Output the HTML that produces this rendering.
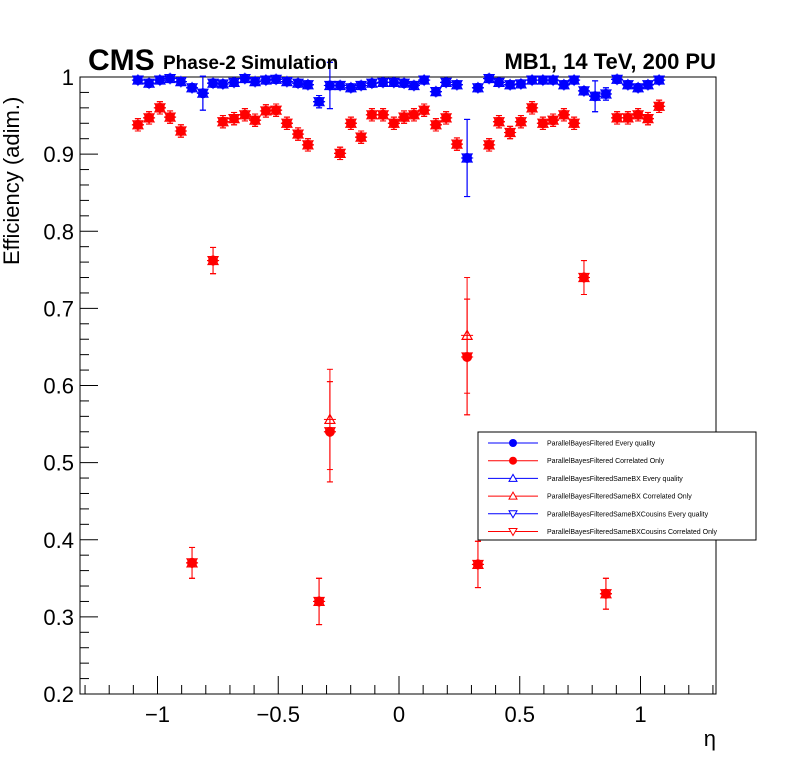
<!DOCTYPE html>
<html><head><meta charset="utf-8"><style>
html,body{margin:0;padding:0;background:#fff;}
svg{display:block;font-family:"Liberation Sans",Arial,sans-serif;}
</style></head><body>
<svg id="chart" width="796" height="772" viewBox="0 0 796 772">
<rect x="0" y="0" width="796" height="772" fill="#fff"/>
<g id="axes"></g>
<g id="marks"></g>
<text x="88" y="70" font-size="30" font-weight="bold">CMS</text>
<text x="163" y="69" font-size="19" font-weight="bold">Phase-2 Simulation</text>
<text x="716" y="69" font-size="22" font-weight="bold" text-anchor="end">MB1, 14 TeV, 200 PU</text>
<text transform="translate(19,265) rotate(-90)" font-size="22">Efficiency (adim.)</text>
<text x="716" y="746" font-size="22" text-anchor="end">η</text>
<g id="legend"></g>
</svg>
<script>
const etaPx = [137,148,159,169,180,191,202,212,222,233,244,254,265,275,286,297,307,318,329,339,350,360,371,382,393,403,413,423,435,445,456,466,477,488,498,509,520,531,542,552,563,573,583,594,605,616,627,637,647,658];
const etaBins = etaPx.map(p => +((p-398)/241.5).toFixed(3));
const blueEff = [.996,.992,.996,.998,.994,.986,.979,.992,.991,.993,.998,.994,.996,.997,.994,.992,.990,.968,.989,.989,.986,.989,.992,.993,.993,.992,.989,.996,.981,.993,.990,.895,.986,.998,.993,.990,.991,.996,.996,.996,.990,.996,.982,.975,.978,.997,.990,.986,.990,.996];
const blueErr = [.004,.004,.004,.004,.004,.005,.022,.004,.004,.004,.004,.004,.004,.004,.004,.004,.004,.008,.03,.004,.004,.004,.004,.004,.004,.004,.005,.004,.005,.004,.004,.05,.005,.004,.004,.004,.004,.004,.004,.004,.004,.004,.005,.02,.008,.004,.004,.004,.004,.004];
const redEff = [.938,.947,.960,.948,.930,.370,null,.762,.942,.946,.951,.944,.956,.957,.940,.926,.912,.320,.540,.901,.940,.922,.951,.951,.940,.948,.951,.957,.938,.947,.913,.637,.368,.912,.942,.928,.942,.960,.940,.944,.951,.940,.740,null,.330,.947,.947,.951,.946,.962];
const redErr = [.008,.008,.008,.008,.008,.02,0,.017,.008,.008,.008,.008,.008,.008,.008,.008,.008,.03,.065,.008,.008,.008,.008,.008,.008,.008,.008,.008,.008,.008,.008,.075,.03,.008,.008,.008,.008,.008,.008,.008,.008,.008,.022,0,.02,.008,.008,.008,.008,.008];
const redSameBX = redEff.map((v,i)=> i===18 ? .556 : (i===31 ? .665 : v));
const yTicks = [0.2,0.3,0.4,0.5,0.6,0.7,0.8,0.9,1];
const yTickLabels = ["0.2","0.3","0.4","0.5","0.6","0.7","0.8","0.9","1"];
const xTicks = [-1,-0.5,0,0.5,1];
const xTickLabels = ["−1","−0.5","0","0.5","1"];

const NS="http://www.w3.org/2000/svg";
const L=80,R=716,T=77,B=694;
const xMin=-1.3209,xMax=1.3127;
const xs = v => L+(v-xMin)/(xMax-xMin)*(R-L);
const ys = v => B-(v-0.2)/0.8*(B-T);
function mk(tag,attrs,parent){const e=document.createElementNS(NS,tag);for(const k in attrs)e.setAttribute(k,attrs[k]);parent.appendChild(e);return e;}
const axes=document.getElementById('axes');
const frame=mk('rect',{x:L,y:T,width:R-L,height:B-T,fill:'none',stroke:'#000','stroke-width':1},axes);


for(let v=0.2;v<=1.0001;v+=0.02){
  const major=Math.abs(v*10-Math.round(v*10))<1e-6;
  const y=ys(v);
  const t=mk('line',{x1:L,x2:L+(major?18:9),y1:y,y2:y,stroke:'#000'},axes);
  
  
}
yTicks.forEach((v,i)=>{
  const t=mk('text',{x:L-6,y:ys(v)+8,'font-size':22,'text-anchor':'end'},axes);
  t.textContent=yTickLabels[i];
  
  
});
for(let k=-13;k<=13;k++){
  const v=k/10;const major=k%5===0;
  const x=xs(v);
  const t=mk('line',{x1:x,x2:x,y1:B,y2:B-(major?18:9),stroke:'#000'},axes);
  
  
}
xTicks.forEach((v,i)=>{
  const t=mk('text',{x:xs(v),y:B+28,'font-size':22,'text-anchor':'middle'},axes);
  t.textContent=xTickLabels[i];
  
  
});
const marks=document.getElementById('marks');
function errbar(x,v,e,col){
  const g=mk('g',{stroke:col,'stroke-width':1},marks);
  
  
  const y=ys(v),y1=ys(v+e),y2=ys(v-e);
  mk('line',{x1:x,x2:x,y1:y1,y2:y2},g);
  mk('line',{x1:x-6,x2:x+6,y1:y,y2:y},g);
  mk('line',{x1:x-3,x2:x+3,y1:y1,y2:y1},g);
  mk('line',{x1:x-3,x2:x+3,y1:y2,y2:y2},g);
}
function tri(x,y,up,col,parent){
  const p=up?`${x},${y-5} ${x-5},${y+4} ${x+5},${y+4}`:`${x},${y+5} ${x-5},${y-4} ${x+5},${y-4}`;
  return mk('polygon',{points:p,fill:'none',stroke:col,'stroke-width':1.2},parent);
}
function series(vals,errs,col,kind,name){
  vals.forEach((v,i)=>{
    if(v===null)return;
    const x=xs(etaBins[i]);
    errbar(x,v,errs[i],col);
    let m;
    if(kind==='circle') m=mk('circle',{cx:x,cy:ys(v),r:5,fill:col},marks);
    else m=tri(x,ys(v),kind==='up',col,marks);
    
    
  });
}
series(redEff,redErr,'#ff0000','circle','point-correlated');
series(redSameBX,redErr,'#ff0000','up','point-samebx-correlated');
series(redEff,redErr,'#ff0000','down','point-cousins-correlated');
series(blueEff,blueErr,'#0000ff','circle','point-every-quality');
series(blueEff,blueErr,'#0000ff','up','point-samebx-every-quality');
series(blueEff,blueErr,'#0000ff','down','point-cousins-every-quality');

const leg=document.getElementById('legend');
const lb=mk('rect',{x:478,y:432,width:278,height:108,fill:'#fff',stroke:'#000'},leg);


const legLabels=["ParallelBayesFiltered Every quality","ParallelBayesFiltered Correlated Only","ParallelBayesFilteredSameBX Every quality","ParallelBayesFilteredSameBX Correlated Only","ParallelBayesFilteredSameBXCousins Every quality","ParallelBayesFilteredSameBXCousins Correlated Only"];
const legKinds=['circle','circle','up','up','down','down'];
legLabels.forEach((s,i)=>{
  const y=443+i*17.7;const col=i%2?'#ff0000':'#0000ff';
  const g=mk('g',{},leg);
  
  
  mk('line',{x1:488,x2:538,y1:y,y2:y,stroke:col},g);
  if(legKinds[i]==='circle') mk('circle',{cx:513,cy:y,r:4,fill:col},g);
  else { const p=legKinds[i]==='up'?`513,${y-4} 509,${y+3} 517,${y+3}`:`513,${y+4} 509,${y-3} 517,${y-3}`; mk('polygon',{points:p,fill:'#fff',stroke:col},g); }
  const t=mk('text',{x:547,y:y+2.5,'font-size':7},g);
  t.textContent=s;
});
</script>
</body></html>
